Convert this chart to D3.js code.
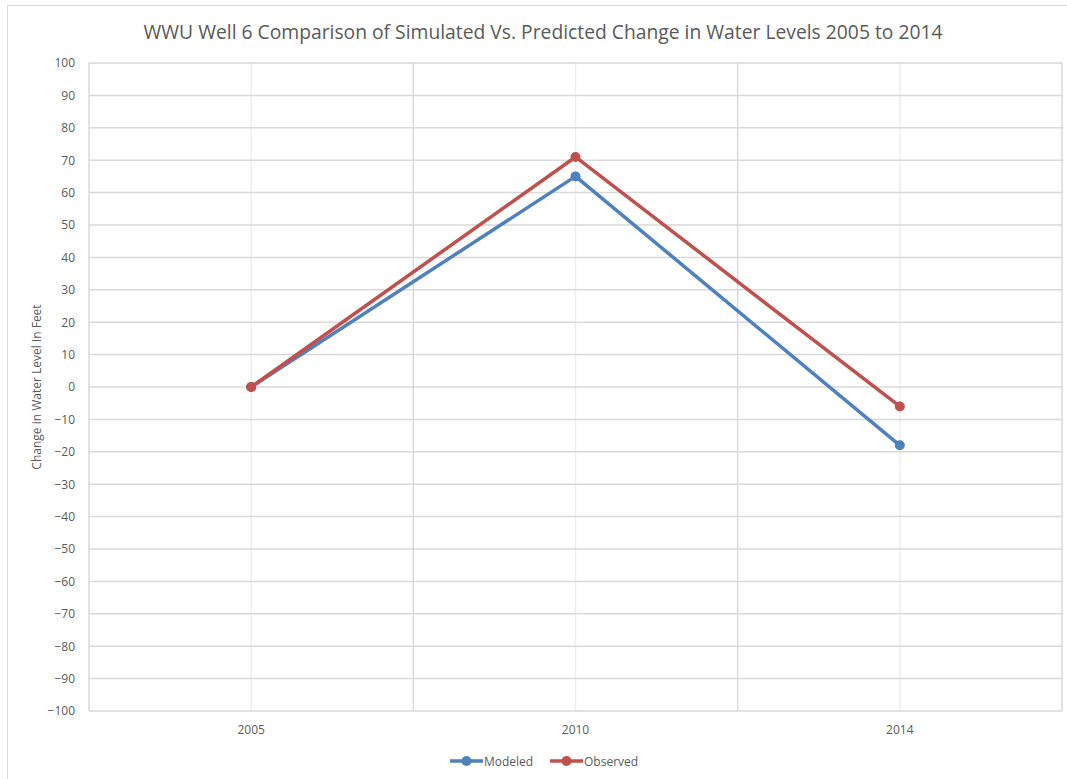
<!DOCTYPE html>
<html>
<head>
<meta charset="utf-8">
<script src="https://cdn.jsdelivr.net/npm/d3@7"></script>
<style>
  body { margin: 0; background: #fff; }
  text { font-family: "Open Sans", "Liberation Sans", sans-serif; fill: #595959; }
</style>
</head>
<body>
<div id="chart"></div>
<script>
// Chart data
const years = ['2005', '2010', '2014'];
const modeled = [0, 65, -18];
const observed = [0, 71, -6];
const yTicks = d3.range(-100, 101, 10);

const series = [
    { name: 'Modeled', values: modeled, color: '#4f81bd' },
    { name: 'Observed', values: observed, color: '#c0504d' }
];

function createChart() {
    const width = 1067, height = 779;
    const margin = { top: 63, right: 5, bottom: 68, left: 89 };
    const innerWidth = 1062 - margin.left;
    const innerHeight = 711 - margin.top;

    const svg = d3.select('#chart')
        .append('svg')
        .attr('width', width)
        .attr('height', height);

    // Outer chart border (only left/top visible in frame)
    svg.append('rect')
        .attr('x', 7.5).attr('y', 5.5)
        .attr('width', 1100).attr('height', 800)
        .attr('fill', 'none')
        .attr('stroke', '#d9d9d9')
        .attr('stroke-width', 1);

    const g = svg.append('g')
        .attr('transform', `translate(${margin.left},${margin.top})`);

    // Scales
    const xScale = d3.scaleBand()
        .domain(years)
        .range([0, innerWidth]);

    const yScale = d3.scaleLinear()
        .domain([-100, 100])
        .range([innerHeight, 0]);

    // Minor vertical gridlines at category centers
    g.selectAll('.minor-grid')
        .data(years)
        .enter()
        .append('line')
        .attr('x1', d => xScale(d) + xScale.bandwidth() / 2)
        .attr('x2', d => xScale(d) + xScale.bandwidth() / 2)
        .attr('y1', 0)
        .attr('y2', innerHeight)
        .attr('stroke', '#eeeeee')
        .attr('stroke-width', 1.5);

    // Horizontal gridlines
    g.selectAll('.h-grid')
        .data(yTicks)
        .enter()
        .append('line')
        .attr('x1', 0)
        .attr('x2', innerWidth)
        .attr('y1', d => yScale(d))
        .attr('y2', d => yScale(d))
        .attr('stroke', '#d9d9d9')
        .attr('stroke-width', 1.5);

    // Major vertical gridlines at band boundaries
    const bounds = years.map(d => xScale(d)).concat([innerWidth]);
    g.selectAll('.v-grid')
        .data(bounds)
        .enter()
        .append('line')
        .attr('x1', d => d)
        .attr('x2', d => d)
        .attr('y1', 0)
        .attr('y2', innerHeight)
        .attr('stroke', '#d9d9d9')
        .attr('stroke-width', 1.5);

    // Y axis labels
    const yAxis = d3.axisLeft(yScale)
        .tickValues(yTicks)
        .tickSize(0)
        .tickPadding(14);
    const yG = g.append('g').call(yAxis);
    yG.select('.domain').remove();
    yG.selectAll('text')
        .style('font-size', '12px')
        .attr('fill', '#595959');

    // X axis labels
    const xAxis = d3.axisBottom(xScale)
        .tickSize(0)
        .tickPadding(14);
    const xG = g.append('g')
        .attr('transform', `translate(0,${innerHeight})`)
        .call(xAxis);
    xG.select('.domain').remove();
    xG.selectAll('text')
        .style('font-size', '12px')
        .attr('fill', '#595959');

    // Title
    svg.append('text')
        .attr('x', 543)
        .attr('y', 39)
        .style('text-anchor', 'middle')
        .style('font-size', '19.3px')
        .text('WWU Well 6 Comparison of Simulated Vs. Predicted Change in Water Levels 2005 to 2014');

    // Y axis title
    svg.append('text')
        .attr('transform', 'rotate(-90)')
        .attr('x', -margin.top - innerHeight / 2)
        .attr('y', 41)
        .style('text-anchor', 'middle')
        .style('font-size', '12px')
        .text('Change in Water Level In Feet');

    // Lines and markers
    const line = d3.line()
        .x((d, i) => xScale(years[i]) + xScale.bandwidth() / 2)
        .y(d => yScale(d));

    series.forEach(s => {
        g.append('path')
            .datum(s.values)
            .attr('fill', 'none')
            .attr('stroke', s.color)
            .attr('stroke-width', 3.5)
            .attr('stroke-linejoin', 'round')
            .attr('d', line);

        g.selectAll(null)
            .data(s.values)
            .enter()
            .append('circle')
            .attr('cx', (d, i) => xScale(years[i]) + xScale.bandwidth() / 2)
            .attr('cy', d => yScale(d))
            .attr('r', 5)
            .attr('fill', s.color);
    });

    // Legend
    const legendPos = [450, 550];
    series.forEach((s, i) => {
        const lg = svg.append('g')
            .attr('transform', `translate(${legendPos[i]},761)`);
        lg.append('line')
            .attr('x1', 0).attr('x2', 33)
            .attr('y1', 0).attr('y2', 0)
            .attr('stroke', s.color)
            .attr('stroke-width', 3.5);
        lg.append('circle')
            .attr('cx', 16.5).attr('cy', 0)
            .attr('r', 5)
            .attr('fill', s.color);
        lg.append('text')
            .attr('x', 34)
            .attr('y', 4.5)
            .style('font-size', '12px')
            .text(s.name);
    });
}

document.addEventListener('DOMContentLoaded', createChart);
</script>
</body>
</html>
